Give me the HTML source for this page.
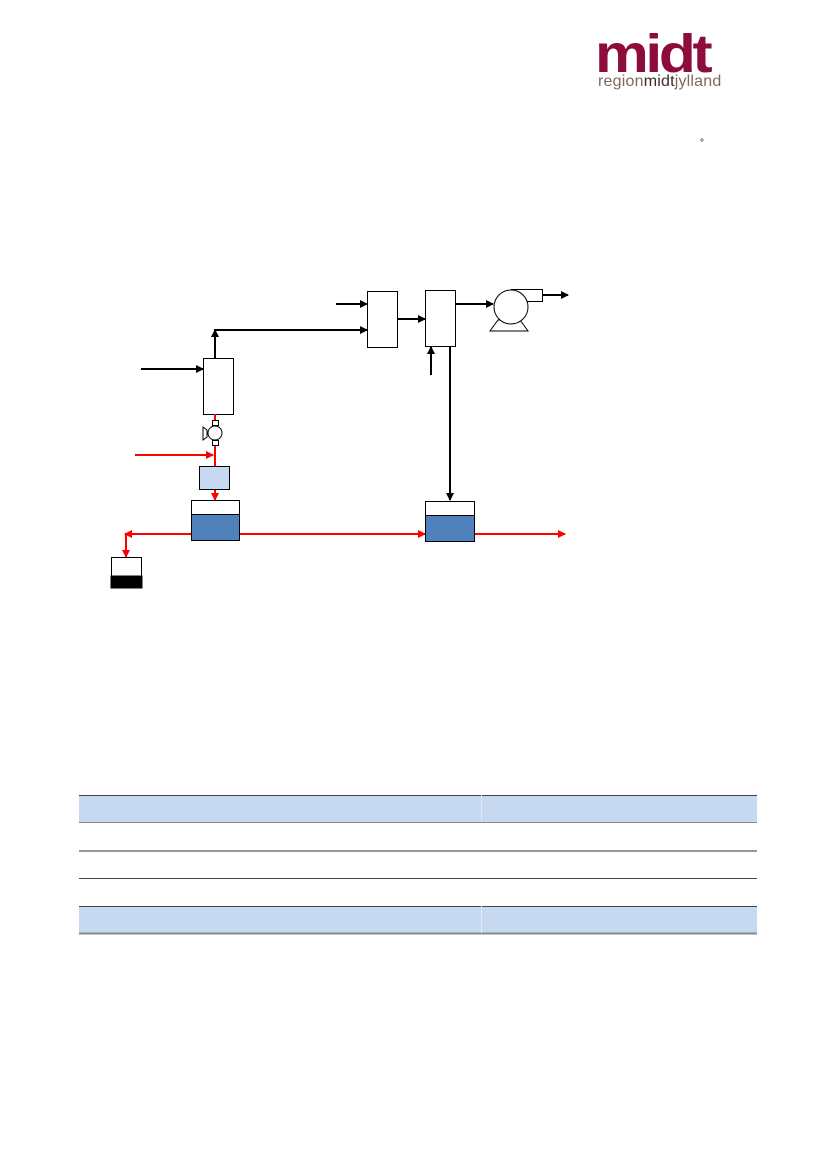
<!DOCTYPE html>
<html><head><meta charset="utf-8"><style>
body{margin:0;background:#fff;width:827px;height:1169px;position:relative;overflow:hidden;font-family:"Liberation Sans",sans-serif}
.a{position:absolute}
</style></head><body>
<div class="a" style="left:595px;top:24px;font-size:54px;font-weight:bold;color:#8c0d3c;letter-spacing:-3px;line-height:60px;transform:scaleX(1.12);transform-origin:left">midt</div>
<div class="a" style="left:598px;top:73px;font-size:16px;color:#7a6a5e;line-height:18px;letter-spacing:0.2px">region<span style="color:#3a2a22">midt</span>jylland</div>
<div class="a" style="left:700px;top:138px;font-size:10px">°</div>
<svg class="a" style="left:0;top:0" width="827" height="1169">
<defs>
<marker id="k" markerWidth="8" markerHeight="8" refX="7" refY="4" orient="auto" markerUnits="userSpaceOnUse"><path d="M0,0L8,4L0,8z" fill="#000"/></marker>
<marker id="r" markerWidth="8" markerHeight="8" refX="7" refY="4" orient="auto" markerUnits="userSpaceOnUse"><path d="M0,0L8,4L0,8z" fill="#f00"/></marker>
</defs>
<g stroke="#000" stroke-width="2" fill="none">
<line x1="141" y1="369" x2="203" y2="369" marker-end="url(#k)"/>
<polyline points="215,358 215,330 367,330" marker-end="url(#k)"/>
<line x1="215" y1="358" x2="215" y2="330" marker-end="url(#k)"/>
<line x1="336" y1="304" x2="367" y2="304" marker-end="url(#k)"/>
<line x1="397" y1="319" x2="425" y2="319" marker-end="url(#k)"/>
<line x1="431" y1="375" x2="431" y2="347" marker-end="url(#k)"/>
<line x1="455" y1="304" x2="493" y2="304" marker-end="url(#k)"/>
<line x1="542" y1="295" x2="568" y2="295" marker-end="url(#k)"/>
<line x1="450" y1="346" x2="450" y2="500" marker-end="url(#k)"/>
</g>
<g stroke="#000" stroke-width="1" fill="#fff">
<rect x="203.5" y="358.5" width="30" height="56"/>
<rect x="367.5" y="291.5" width="30" height="56"/>
<rect x="425.5" y="290.5" width="30" height="56"/>
<rect x="511.5" y="289.5" width="31" height="12"/>
<polygon points="490,331 528,331 520,320 498,320"/>
<circle cx="511" cy="307" r="17"/>
</g>
<g stroke="#f00" stroke-width="2" fill="none">
<line x1="215" y1="414" x2="215" y2="466"/>
<line x1="135" y1="455" x2="213" y2="455" marker-end="url(#r)"/>
<line x1="215" y1="489" x2="215" y2="500" marker-end="url(#r)"/>
<line x1="239" y1="534" x2="425" y2="534" marker-end="url(#r)"/>
<line x1="474" y1="534" x2="565" y2="534" marker-end="url(#r)"/>
<line x1="191" y1="534" x2="125" y2="534" marker-end="url(#r)"/>
<line x1="126" y1="534" x2="126" y2="557" marker-end="url(#r)"/>
</g>
<g stroke="#000" stroke-width="1">
<rect x="212.5" y="420.5" width="6" height="5" fill="#fff"/>
<rect x="212.5" y="440.5" width="6" height="5" fill="#fff"/>
<polygon points="203,427 207,430 207,437 203,440" fill="#fff"/>
<circle cx="215" cy="433" r="7" fill="#fff"/>
<rect x="199.5" y="466.5" width="30" height="23" fill="#c6d9f0"/>
<rect x="191.5" y="500.5" width="48" height="40" fill="#fff"/>
<rect x="191.5" y="514.5" width="48" height="26" fill="#4f81bd"/>
<rect x="425.5" y="501.5" width="49" height="40" fill="#fff"/>
<rect x="425.5" y="515.5" width="49" height="26" fill="#4f81bd"/>
<rect x="111.5" y="557.5" width="30" height="30" fill="#fff"/>
<rect x="111" y="576" width="31" height="12" fill="#000"/>
</g>
<rect x="79" y="795" width="678" height="27" fill="#c6d9f0"/>
<rect x="79" y="906" width="678" height="27" fill="#c6d9f0"/>
<line x1="79" y1="795.5" x2="757" y2="795.5" stroke="#444"/>
<line x1="79" y1="822.5" x2="757" y2="822.5" stroke="#888"/>
<line x1="79" y1="851" x2="757" y2="851" stroke="#999" stroke-width="2"/>
<line x1="79" y1="878.5" x2="757" y2="878.5" stroke="#444"/>
<line x1="79" y1="906.5" x2="757" y2="906.5" stroke="#444"/>
<line x1="79" y1="933.5" x2="757" y2="933.5" stroke="#888" stroke-width="2"/>
<line x1="481.5" y1="795" x2="481.5" y2="822" stroke="#dde8f5"/>
<line x1="481.5" y1="906" x2="481.5" y2="933" stroke="#dde8f5"/>
</svg>
</body></html>
